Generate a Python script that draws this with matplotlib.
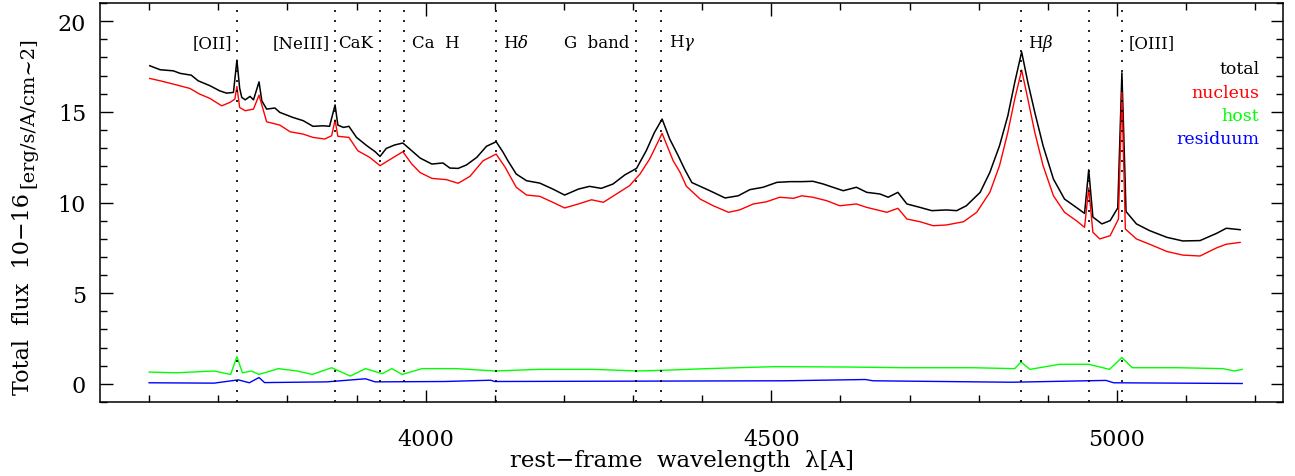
import matplotlib
matplotlib.use("Agg")
import matplotlib.pyplot as plt
from matplotlib.ticker import MultipleLocator

plt.rcParams['font.family'] = ['DejaVu Serif']
plt.rcParams['mathtext.fontset'] = 'dejavuserif'

# total spectrum (black)
wl_total = [3601, 3616, 3635, 3645, 3661, 3671, 3688, 3702, 3712, 3722,
            3727, 3731, 3734, 3739, 3746, 3751, 3759, 3763, 3770, 3782,
            3789, 3808, 3823, 3837, 3852, 3861, 3869, 3873, 3881, 3889,
            3900, 3915, 3927, 3934, 3943, 3955, 3967, 3977, 3992, 4009,
            4025, 4035, 4047, 4059, 4074, 4088, 4102, 4112, 4119, 4131,
            4146, 4165, 4184, 4201, 4221, 4237, 4254, 4271, 4288, 4305,
            4319, 4331, 4342, 4353, 4365, 4375, 4385, 4411, 4433, 4452,
            4469, 4488, 4508, 4527, 4544, 4560, 4575, 4589, 4604, 4623,
            4638, 4657, 4669, 4683, 4696, 4715, 4732, 4753, 4768, 4782,
            4802, 4816, 4830, 4842, 4852, 4862, 4871, 4881, 4893, 4908,
            4924, 4941, 4953, 4959, 4965, 4978, 4990, 5001, 5007, 5013,
            5028, 5047, 5072, 5095, 5120, 5144, 5158, 5178]
flux_total = [17.54, 17.32, 17.26, 17.12, 17.02, 16.71, 16.44, 16.16, 16.03, 16.07,
              17.85, 16.3, 15.8, 15.66, 15.85, 15.66, 16.65, 15.61, 15.15, 15.21,
              14.97, 14.69, 14.51, 14.20, 14.23, 14.2, 15.38, 14.27, 14.14, 14.2,
              13.59, 13.13, 12.8, 12.54, 12.98, 13.17, 13.28, 12.95, 12.45, 12.12,
              12.18, 11.9, 11.88, 12.07, 12.49, 13.1, 13.35, 12.77, 12.3, 11.57,
              11.2, 11.07, 10.74, 10.41, 10.74, 10.89, 10.78, 11.02, 11.52, 11.88,
              12.85, 13.87, 14.6, 13.5, 12.6, 11.8, 11.1, 10.65, 10.25, 10.37,
              10.71, 10.84, 11.11, 11.15, 11.15, 11.17, 11.02, 10.84, 10.65, 10.84,
              10.56, 10.47, 10.29, 10.56, 9.92, 9.73, 9.55, 9.59, 9.55, 9.82,
              10.56, 11.66, 13.13, 14.78, 16.62, 18.3, 16.62, 14.97, 13.13, 11.29,
              10.19, 9.73, 9.4, 11.8, 9.2, 8.82, 9.0, 9.7, 17.15, 9.5,
              8.82, 8.45, 8.08, 7.88, 7.9, 8.3, 8.58, 8.5]

# nucleus (red)
wl_nucleus = [3601, 3616, 3635, 3659, 3673, 3688, 3705, 3717, 3724, 3727,
              3731, 3739, 3751, 3759, 3770, 3789, 3804, 3823, 3837, 3854,
              3864, 3869, 3873, 3889, 3902, 3919, 3934, 3948, 3967, 3980,
              3992, 4009, 4030, 4047, 4064, 4083, 4102, 4115, 4131, 4146,
              4165, 4184, 4201, 4221, 4240, 4257, 4276, 4295, 4310, 4324,
              4342, 4358, 4368, 4377, 4397, 4416, 4438, 4454, 4474, 4493,
              4512, 4532, 4544, 4560, 4580, 4599, 4623, 4638, 4667, 4683,
              4696, 4715, 4734, 4753, 4778, 4797, 4816, 4830, 4842, 4852,
              4862, 4871, 4881, 4893, 4908, 4924, 4941, 4953, 4959, 4965,
              4975, 4990, 5002, 5007, 5012, 5028, 5047, 5072, 5095, 5120,
              5144, 5158, 5178]
flux_nucleus = [16.84, 16.71, 16.53, 16.29, 15.98, 15.74, 15.33, 15.52, 15.7, 16.4,
                15.24, 15.06, 15.15, 15.92, 14.45, 14.27, 13.9, 13.77, 13.59, 13.5,
                13.68, 14.55, 13.65, 13.59, 12.85, 12.49, 12.03, 12.36, 12.8, 12.12,
                11.65, 11.33, 11.26, 11.06, 11.44, 12.3, 12.67, 11.94, 10.84, 10.41,
                10.34, 10.01, 9.7, 9.92, 10.15, 10.01, 10.47, 10.93, 11.57, 12.4,
                13.81, 12.3, 11.66, 10.9, 10.19, 9.82, 9.46, 9.59, 9.92, 10.04,
                10.29, 10.23, 10.37, 10.29, 10.1, 9.82, 9.92, 9.73, 9.46, 9.68,
                9.09, 8.94, 8.72, 8.76, 8.94, 9.46, 10.56, 12.03, 13.87, 15.7,
                17.3, 15.7, 13.87, 12.03, 10.37, 9.46, 9.0, 8.63, 10.8, 8.36,
                7.99, 8.17, 9.09, 16.1, 8.54, 7.99, 7.7, 7.3, 7.1, 7.05,
                7.5, 7.7, 7.8]

# host galaxy (green)
wl_host = [3600, 3639, 3694, 3718, 3727, 3735, 3748, 3759, 3787, 3814,
           3836, 3864, 3891, 3913, 3937, 3951, 3966, 3995, 4045, 4100,
           4165, 4242, 4308, 4352, 4407, 4506, 4605, 4692, 4791, 4852,
           4861, 4874, 4917, 4959, 4989, 5007, 5022, 5088, 5153, 5170, 5181]
flux_host = [0.65, 0.61, 0.71, 0.52, 1.5, 0.61, 0.71, 0.52, 0.84, 0.71,
             0.52, 0.89, 0.43, 0.84, 0.56, 0.84, 0.52, 0.84, 0.84, 0.71,
             0.80, 0.80, 0.71, 0.76, 0.84, 0.95, 0.93, 0.89, 0.89, 0.84,
             1.21, 0.80, 1.08, 1.08, 0.80, 1.45, 0.89, 0.89, 0.84, 0.71, 0.80]

# residuum (blue)
wl_resid = [3600, 3694, 3729, 3745, 3759, 3767, 3857, 3913, 3927, 4027,
            4094, 4100, 4300, 4520, 4636, 4647, 4847, 4984, 4995, 5181]
flux_resid = [0.06, 0.04, 0.22, 0.06, 0.35, 0.07, 0.11, 0.28, 0.11, 0.13,
              0.2, 0.13, 0.15, 0.17, 0.24, 0.17, 0.09, 0.19, 0.06, 0.02]

# line markers
line_wl = [3727, 3869, 3934, 3968, 4102, 4304, 4340, 4861, 4959, 5007]
line_names = ["[OII]", "[NeIII]", "CaK", "Ca  H", r"H$\delta$", "G  band",
              r"H$\gamma$", r"H$\beta$", "", "[OIII]"]
# label offset from the line in pixels (negative = left of the line)
line_offset = [-5, -5, -7, 8, 7, -6, 8, 7, 0, 7]

series_names = ["total", "nucleus", "host", "residuum"]
series_colors = ["black", "#ff0000", "#00ff00", "#0000ff"]

fig = plt.figure(figsize=(12.95, 4.77), dpi=100)
ax = fig.add_axes([100/1295, 74/477, 1183/1295, 399/477])

ax.plot(wl_total, flux_total, color=series_colors[0], lw=1.1)
ax.plot(wl_nucleus, flux_nucleus, color=series_colors[1], lw=1.0)
ax.plot(wl_host, flux_host, color=series_colors[2], lw=1.0)
ax.plot(wl_resid, flux_resid, color=series_colors[3], lw=1.0)

for wl, name, off in zip(line_wl, line_names, line_offset):
    ax.axvline(wl, color='black', lw=1.2, linestyle=(0, (1.2, 4.8)))
    if name:
        ax.annotate(name, xy=(wl, 0.902), xycoords=('data', 'axes fraction'),
                    xytext=(off*0.72, 0), textcoords='offset points',
                    ha='right' if off < 0 else 'left', va='center', fontsize=12)

# legend as coloured words
for i, (name, col) in enumerate(zip(series_names, series_colors)):
    ax.text(0.98, 0.835 - i*0.0585, name, color=col, transform=ax.transAxes,
            ha='right', va='center', fontsize=12.5)

ax.set_xlim(3529, 5240)
ax.set_ylim(-1, 21)
ax.xaxis.set_major_locator(MultipleLocator(500))
ax.xaxis.set_minor_locator(MultipleLocator(100))
ax.yaxis.set_major_locator(MultipleLocator(5))
ax.yaxis.set_minor_locator(MultipleLocator(1))
ax.tick_params(which='both', direction='in', top=True, right=True, width=1.0)
ax.tick_params(which='major', length=9, labelsize=16)
ax.tick_params(which='minor', length=5)
ax.tick_params(axis='x', which='major', pad=19)
ax.tick_params(axis='y', which='major', pad=10)
for sp in ax.spines.values():
    sp.set_linewidth(1.1)

# axis titles placed by hand, as in the original layout
fig.text(0.527, 0.034, "rest\u2212frame  wavelength  \u03bb[A]", fontsize=16.5,
         ha='center', va='center')
fig.text(0.018, 0.172, "Total  flux  10\u221216", rotation=90, fontsize=16,
         ha='center', va='bottom')
fig.text(0.022, 0.605, "[erg/s/A/cm~2]", rotation=90, fontsize=14,
         ha='center', va='bottom')

fig.savefig("out.png", dpi=100)
